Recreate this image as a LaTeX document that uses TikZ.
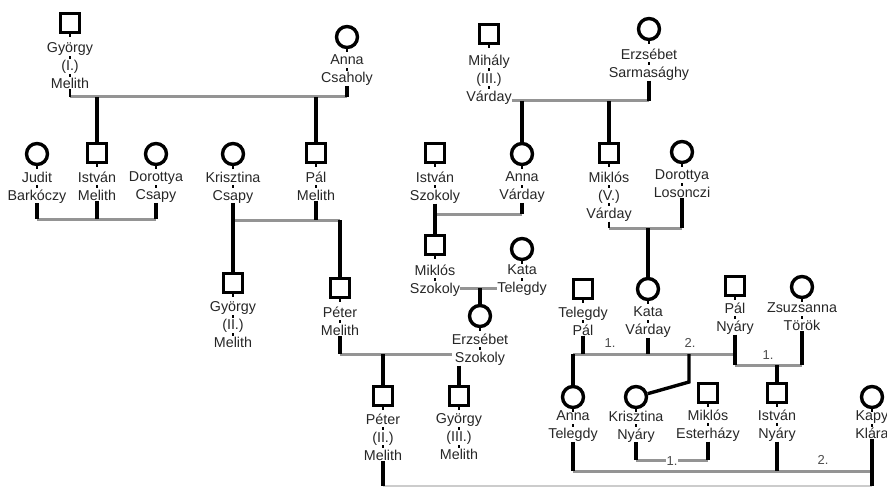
\documentclass[tikz,border=0pt]{standalone}
\usepackage{fontspec}
\setmainfont{Liberation Sans}

\begin{document}
\begin{tikzpicture}[x=1pt, y=-1pt,
        man/.style={draw, line width=3.4pt, minimum size=19.5pt, inner sep=0pt},
        woman/.style={draw, circle, line width=3.4pt, minimum size=21pt, inner sep=0pt},
        pname/.style={anchor=north, align=center, inner sep=0pt, text=black!85, font=\fontsize{14.3}{18}\selectfont},
        ln/.style={line width=3.4pt},
        tk/.style={line width=1.8pt},
        mar/.style={line width=3pt, black!42},
        nr/.style={text=black!70, inner sep=1pt, font=\fontsize{13}{13}\selectfont}]
            \useasboundingbox (0, 0) rectangle (887, 487);

            \node[man] (gy1) at (70, 23) {};
            \node[woman] (an1) at (347, 37) {};
            \node[man] (mih) at (489, 34) {};
            \node[woman] (ers1) at (649, 29) {};
            \node[pname] (gy1n) at (70, 42.7) {György\\(I.)\\Melith};
            \node[pname] (an1n) at (347, 54.7) {Anna\\Csaholy};
            \node[pname] (mihn) at (489, 54.7) {Mihály\\(III.)\\Várday};
            \node[pname] (ers1n) at (649, 48.7) {Erzsébet\\Sarmasághy};

            \node[woman] (jud) at (37, 154) {};
            \node[man] (ist1) at (97, 153) {};
            \node[woman] (dor1) at (156, 154) {};
            \node[woman] (kri1) at (233, 154) {};
            \node[man] (pal1) at (316, 153) {};
            \node[man] (ist2) at (435, 153) {};
            \node[woman] (ann2) at (522, 154) {};
            \node[man] (mik1) at (609, 153) {};
            \node[woman] (dor2) at (682, 152) {};
            \node[pname] (judn) at (37, 171.7) {Judit\\Barkóczy};
            \node[pname] (ist1n) at (97, 171.7) {István\\Melith};
            \node[pname] (dor1n) at (156, 171.7) {Dorottya\\Csapy};
            \node[pname] (kri1n) at (233, 171.7) {Krisztina\\Csapy};
            \node[pname] (pal1n) at (316, 171.7) {Pál\\Melith};
            \node[pname] (ist2n) at (435, 171.7) {István\\Szokoly};
            \node[pname] (ann2n) at (522, 171.7) {Anna\\Várday};
            \node[pname] (mik1n) at (609, 171.7) {Miklós\\(V.)\\Várday};
            \node[pname] (dor2n) at (682, 169.7) {Dorottya\\Losonczi};

            \node[man] (gy2) at (233, 283) {};
            \node[man] (pet1) at (340, 288) {};
            \node[man] (mik2) at (435, 245) {};
            \node[woman] (kat1) at (522, 249) {};
            \node[woman] (ers2) at (480, 316) {};
            \node[man] (tpal) at (583, 289) {};
            \node[woman] (kat2) at (648, 289) {};
            \node[man] (pal2) at (735, 286) {};
            \node[woman] (zsu) at (802, 287) {};
            \node[pname] (gy2n) at (233, 301.7) {György\\(II.)\\Melith};
            \node[pname] (pet1n) at (340, 306.7) {Péter\\Melith};
            \node[pname] (mik2n) at (435, 264.7) {Miklós\\Szokoly};
            \node[pname] (kat1n) at (522, 264.7) {Kata\\Telegdy};
            \node[pname] (ers2n) at (480, 333.7) {Erzsébet\\Szokoly};
            \node[pname] (tpaln) at (583, 306.7) {Telegdy\\Pál};
            \node[pname] (kat2n) at (648, 306.7) {Kata\\Várday};
            \node[pname] (pal2n) at (735, 302.7) {Pál\\Nyáry};
            \node[pname] (zsun) at (802, 302.7) {Zsuzsanna\\Török};

            \node[man] (pet2) at (383, 396) {};
            \node[man] (gy3) at (459, 396) {};
            \node[woman] (ann3) at (573, 397) {};
            \node[woman] (kri2) at (636, 397) {};
            \node[man] (mik3) at (708, 393) {};
            \node[man] (ist3) at (777, 393) {};
            \node[woman] (kap) at (872, 397) {};
            \node[pname] (pet2n) at (383, 413.7) {Péter\\(II.)\\Melith};
            \node[pname] (gy3n) at (459, 413.7) {György\\(III.)\\Melith};
            \node[pname] (ann3n) at (573, 410.7) {Anna\\Telegdy};
            \node[pname] (kri2n) at (636, 410.7) {Krisztina\\Nyáry};
            \node[pname] (mik3n) at (708, 409.7) {Miklós\\Esterházy};
            \node[pname] (ist3n) at (777, 409.7) {István\\Nyáry};
            \node[pname] (kapn) at (872, 410.7) {Kapy\\Klára};

            \foreach \n in {gy1, an1, mih, ers1, jud, ist1, dor1, kri1, pal1, ist2, ann2, mik1, dor2,
                    gy2, pet1, mik2, kat1, ers2, tpal, kat2, pal2, zsu, pet2, gy3, ann3, kri2, mik3, ist3, kap}
                \draw[tk] (\n.south) -- ++(0, -3pt);
            \foreach \n in {gy1n, an1n, mihn, ers1n, judn, ist1n, dor1n, kri1n, pal1n, ist2n, ann2n, mik1n, dor2n,
                    gy2n, pet1n, mik2n, kat1n, ers2n, tpaln, kat2n, pal2n, zsun, pet2n, gy3n, ann3n, kri2n, mik3n, ist3n, kapn}
                \draw[tk] ([yshift=-13.5pt]\n.north) -- ++(0, -2.8pt);
            \foreach \n in {gy1n, mihn, mik1n, gy2n, pet2n, gy3n}
                \draw[tk] ([yshift=-31.5pt]\n.north) -- ++(0, -2.8pt);

            \coordinate (m1a) at (70, 97);
            \coordinate (m1b) at (347, 97);
            \draw[mar] (m1a) -- (m1b);
            \draw[tk] (gy1n) -- (m1a);
            \draw[ln] (an1n) -- (m1b);
            \draw[ln] (ist1 |- m1a) -- (ist1);
            \draw[ln] (pal1 |- m1a) -- (pal1);

            \coordinate (m2a) at (37, 219);
            \coordinate (m2b) at (156, 219);
            \draw[mar] (m2a) -- (m2b);
            \draw[ln] (judn) -- (m2a);
            \draw[ln] (ist1n) -- (ist1n |- m2a);
            \draw[ln] (dor1n) -- (m2b);

            \coordinate (m3a) at (233, 220);
            \coordinate (m3b) at (340, 220);
            \draw[mar] (m3a) -- (m3b);
            \draw[ln] (kri1n) -- (m3a);
            \draw[ln] (pal1n) -- (pal1n |- m3a);
            \draw[ln] (m3a) -- (gy2);
            \draw[ln] (m3b) -- (pet1);

            \coordinate (m4b) at (649, 101);
            \draw[mar] (mihn.east |- m4b) -- (m4b);
            \draw[ln] (ers1n) -- (m4b);
            \draw[ln] (ann2 |- m4b) -- (ann2);
            \draw[ln] (mik1 |- m4b) -- (mik1);

            \coordinate (m5a) at (435, 214);
            \coordinate (m5b) at (522, 214);
            \draw[mar] (m5a) -- (m5b);
            \draw[ln] (ist2n) -- (m5a);
            \draw[ln] (ann2n) -- (m5b);
            \draw[ln] (m5a) -- (mik2);

            \coordinate (m6a) at (609, 228);
            \coordinate (m6b) at (682, 228);
            \draw[mar] (m6a) -- (m6b);
            \draw[tk] (mik1n) -- (m6a);
            \draw[ln] (dor2n) -- (m6b);
            \draw[ln] (kat2 |- m6a) -- (kat2);

            \coordinate (m7) at (480, 288);
            \draw[mar] (mik2n.east |- m7) -- (kat1n.west |- m7);
            \draw[ln] (m7) -- (ers2);

            \coordinate (m8a) at (340, 354);
            \draw[mar] (m8a) -- (ers2n.west |- m8a);
            \draw[ln] (pet1n) -- (m8a);
            \draw[ln] (pet2 |- m8a) -- (pet2);
            \draw[ln] (ers2n.south -| gy3) -- (gy3);

            \coordinate (m9a) at (573, 354);
            \coordinate (m9b) at (735, 354);
            \coordinate (m10a) at (735, 365);
            \coordinate (m10b) at (802, 365);
            \coordinate (kb) at (689, 382);
            \draw[mar] (m9a) -- (m9b);
            \draw[mar] (m10a) -- (m10b);
            \draw[ln] (tpaln) -- (tpaln |- m9a);
            \draw[ln] (kat2n) -- (kat2n |- m9a);
            \draw[ln] (pal2n) -- (m10a);
            \draw[ln] (zsun) -- (m10b);
            \draw[ln] (m9a) -- (ann3);
            \draw[ln] (kb |- m9a) -- (kb) -- (kri2);
            \draw[ln] (ist3 |- m10a) -- (ist3);
            \node[nr] (n1) at (610, 343) {1.};
            \node[nr] (n2) at (690, 343) {2.};
            \node[nr] (n3) at (768, 355) {1.};

            \coordinate (m11a) at (636, 460);
            \coordinate (m11b) at (708, 460);
            \draw[mar] (m11a) -- (m11b);
            \draw[ln] (kri2n) -- (m11a);
            \draw[ln] (mik3n) -- (m11b);
            \node[nr, fill=white] (n4) at (672, 461) {1.};

            \coordinate (m12a) at (573, 471);
            \coordinate (m12b) at (872, 471);
            \coordinate (m13a) at (383, 486);
            \coordinate (m13b) at (872, 486);
            \draw[mar] (m12a) -- (m12b);
            \draw[mar, black!20] (m13a) -- (m13b);
            \draw[ln] (ann3n) -- (m12a);
            \draw[ln] (ist3n) -- (ist3n |- m12a);
            \draw[ln] (kapn) -- (m13b);
            \draw[ln] (pet2n) -- (m13a);
            \node[nr] (n5) at (823, 460) {2.};
    \end{tikzpicture}
\end{document}
